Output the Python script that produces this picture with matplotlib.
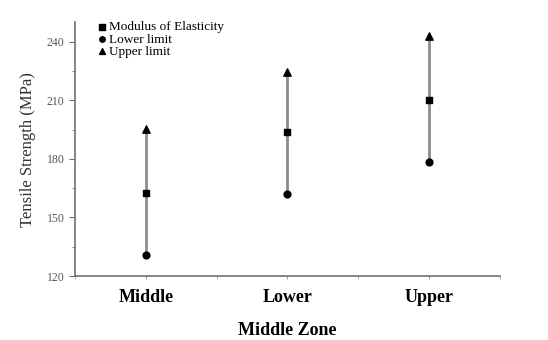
import matplotlib.pyplot as plt
from matplotlib.ticker import MultipleLocator

plt.rcParams['font.family'] = ['Liberation Serif', 'DejaVu Serif']

categories = ['Middle', 'Lower', 'Upper']
modulus = [162.5, 193.8, 210.0]
lower_limit = [130.7, 162.0, 178.5]
upper_limit = [195.5, 224.5, 243.0]

fig = plt.figure(figsize=(5.48, 3.40), dpi=100)
ax = fig.add_axes([0.137, 0.188, 0.775, 0.747])

x = list(range(1, len(categories) + 1))
ax.vlines(x, lower_limit, upper_limit, color='#8c8c8c', linewidth=2.0, zorder=1)
ax.scatter(x, modulus, marker='s', s=22, color='black', zorder=3,
           label='Modulus of Elasticity')
ax.scatter(x, lower_limit, marker='o', s=24, color='black', zorder=3,
           label='Lower limit')
ax.scatter(x, upper_limit, marker='^', s=28, color='black', zorder=3,
           label='Upper limit')

ax.set_xlim(0.5, 3.5)
ax.set_ylim(120, 250)
ax.set_xticks(x)
ax.set_xticklabels(categories, fontsize=13, fontweight='bold')
ax.xaxis.set_minor_locator(MultipleLocator(0.5))
ax.yaxis.set_major_locator(MultipleLocator(30))
ax.yaxis.set_minor_locator(MultipleLocator(15))

for side in ['top', 'right']:
    ax.spines[side].set_visible(False)
for side in ['left', 'bottom']:
    ax.spines[side].set_color('#707070')
    ax.spines[side].set_linewidth(1.2)

ax.tick_params(axis='y', which='major', labelsize=8.5, labelcolor='#555555',
               color='#707070', length=4, direction='out')
ax.tick_params(axis='y', which='minor', color='#707070', length=2.5)
ax.tick_params(axis='x', which='both', color='#a0a0a0', length=2, pad=7)

ax.set_ylabel('Tensile Strength (MPa)', fontsize=12, color='#333333', labelpad=8)
ax.set_xlabel('Middle Zone', fontsize=13, fontweight='bold', labelpad=12)

ax.legend(loc='upper left', bbox_to_anchor=(0.03, 1.04), frameon=False,
          fontsize=9.5, handletextpad=0.1, labelspacing=0.0, borderpad=0.2,
          markerscale=0.8, handlelength=0.8)

fig.savefig('out.png', dpi=100)
